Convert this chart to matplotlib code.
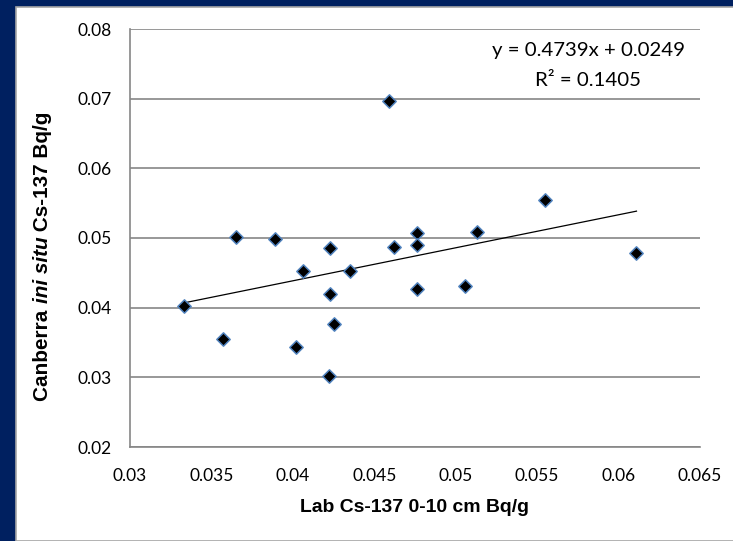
import matplotlib
matplotlib.use("Agg")
import matplotlib.pyplot as plt
from matplotlib.patches import Rectangle
import numpy as np

# Data
lab_cs137 = [0.0333, 0.0365, 0.0389, 0.0357, 0.0406, 0.0402, 0.0423, 0.0423,
             0.0425, 0.0422, 0.0435, 0.0462, 0.0476, 0.0476, 0.0476, 0.0506,
             0.0513, 0.0555, 0.0611, 0.0459]
insitu_cs137 = [0.0403, 0.0501, 0.0499, 0.0355, 0.0453, 0.0343, 0.0485, 0.0420,
                0.0377, 0.0302, 0.0453, 0.0487, 0.0507, 0.0490, 0.0427, 0.0431,
                0.0509, 0.0554, 0.0478, 0.0697]
trend_slope = 0.4739
trend_intercept = 0.0249
r_squared = 0.1405
x_ticks = [0.03, 0.035, 0.04, 0.045, 0.05, 0.055, 0.06, 0.065]
x_tick_labels = ["0.03", "0.035", "0.04", "0.045", "0.05", "0.055", "0.06", "0.065"]
y_ticks = [0.02, 0.03, 0.04, 0.05, 0.06, 0.07, 0.08]
y_tick_labels = ["0.02", "0.03", "0.04", "0.05", "0.06", "0.07", "0.08"]
x_label = "Lab Cs-137 0-10 cm Bq/g"
y_label_parts = [("Canberra ", "normal"), ("ini situ", "italic"), (" Cs-137 Bq/g", "normal")]

W, H = 733, 541
plt.rcParams['font.family'] = ['Lato', 'DejaVu Sans']
BOLD_FAM = ['Liberation Sans', 'DejaVu Sans']
fig = plt.figure(figsize=(W / 100, H / 100), dpi=100)
fig.patch.set_facecolor('#002060')

bg = Rectangle((16 / W, 0), 1, 1 - 7 / H, transform=fig.transFigure,
               facecolor='white', edgecolor='#A6A6A6', linewidth=1.2, zorder=-10)
fig.patches.append(bg)

L, R, T, B = 130, 700, 29, 447
ax = fig.add_axes([L / W, 1 - B / H, (R - L) / W, (B - T) / H])
ax.set_zorder(1)
ax.set_facecolor('white')
ax.set_xlim(0.03, 0.065)
ax.set_ylim(0.02, 0.08)
ax.set_xticks(x_ticks)
ax.set_xticklabels(x_tick_labels)
ax.set_yticks(y_ticks)
ax.set_yticklabels(y_tick_labels)
ax.tick_params(axis='both', length=0, labelsize=12.5, colors='black')
ax.tick_params(axis='y', pad=13)
ax.tick_params(axis='x', pad=15)
for s in ['top', 'right']:
    ax.spines[s].set_visible(False)
for s in ['left', 'bottom']:
    ax.spines[s].set_color('#868686')
    ax.spines[s].set_linewidth(1.2)
ax.grid(axis='y', color='#868686', linewidth=1.2)
ax.set_axisbelow(True)

xs = np.array(lab_cs137)
xline = np.array([xs.min(), xs.max()])
ax.plot(xline, trend_slope * xline + trend_intercept, color='black', linewidth=0.9, zorder=2)
ax.scatter(lab_cs137, insitu_cs137, marker='D', s=46, facecolor='black',
           edgecolor='#4F81BD', linewidth=1.1, zorder=3)

fig.canvas.draw()
renderer = fig.canvas.get_renderer()


def fit_size(t, target_px, base=10.0):
    t.set_fontsize(base)
    w = t.get_window_extent(renderer).width
    t.set_fontsize(base * target_px / w)
    return base * target_px / w


# trendline label
eq1 = fig.text(588 / W, 1 - 50 / H, f'y = {trend_slope}x + {trend_intercept}',
               ha='center', va='center')
eq_fs = fit_size(eq1, 192)
eq2 = fig.text(588 / W, 1 - 81 / H, f'R² = {r_squared}', ha='center', va='center',
               fontsize=eq_fs)

# x axis title
xt = fig.text(415 / W, 1 - 508 / H, x_label, ha='center', va='center',
              fontweight='bold', family=BOLD_FAM)
xlab_fs = fit_size(xt, 230)

# y axis title in pieces (mixed italic)
ylab_fs = xlab_fs * 1.07
pieces = []
for txt, style in y_label_parts:
    t = fig.text(0, 0, txt, rotation=90, ha='left', va='center', fontsize=ylab_fs,
                 fontweight='bold', fontstyle=style, family=BOLD_FAM,
                 rotation_mode='anchor')
    pieces.append(t)
heights = [p.get_window_extent(renderer).height for p in pieces]
total = sum(heights)
xc = 42
ycenter = 256  # from top, pixels
start = (H - ycenter) - total / 2
for p, h in zip(pieces, heights):
    p.set_position((xc / W, start / H))
    start += h

fig.savefig('out.png', dpi=100, facecolor=fig.get_facecolor())
